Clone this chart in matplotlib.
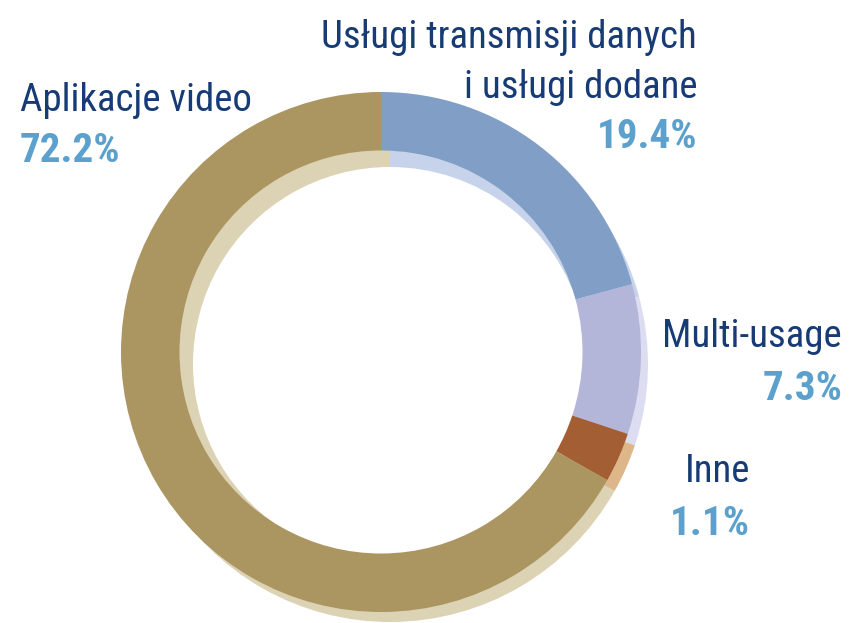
import matplotlib
matplotlib.use("Agg")
import matplotlib.pyplot as plt

# Data (slice sizes as drawn in the picture, labels as printed)
categories = ["Usługi transmisji danych\ni usługi dodane", "Multi-usage", "Inne", "Aplikacje video"]
slice_shares = [20.8, 9.3, 3.1, 66.8]
pct_labels = ["19.4%", "7.3%", "1.1%", "72.2%"]

front_colors = ["#819FC6", "#B3B5D9", "#A35E33", "#AB9662"]
shadow_colors = ["#C6D3EA", "#DCDDF1", "#DDB68A", "#DCD3B4"]

W, H = 852, 623
fig = plt.figure(figsize=(W / 100, H / 100), dpi=100)
ax = fig.add_axes([0, 0, 1, 1])

# shadow ring
ax.pie(slice_shares, colors=shadow_colors, startangle=90, counterclock=False,
       center=(390, H - 364), radius=258,
       wedgeprops=dict(width=61, linewidth=0), frame=False)
# front ring
ax.pie(slice_shares, colors=front_colors, startangle=90, counterclock=False,
       center=(381, H - 352), radius=260,
       wedgeprops=dict(width=58.5, linewidth=0), frame=False)

ax.set_xlim(0, W)
ax.set_ylim(0, H)
ax.set_aspect("equal")
ax.axis("off")

fam = ["Roboto Condensed", "Archivo Narrow", "IBM Plex Sans Condensed", "Liberation Sans"]
name_color = "#173B74"
pct_color = "#5CA0CD"

def put(text, x, y, ha, color, weight="normal", fs=28):
    fig.text(x / W, 1 - y / H, text, ha=ha, va="baseline", color=color,
             fontsize=fs, fontweight=weight, family=fam)

# Usługi
put("Usługi transmisji danych", 697, 48, "right", name_color)
put("i usługi dodane", 697, 98, "right", name_color)
put(pct_labels[0], 697, 148, "right", pct_color, "bold", 29.5)
# Multi-usage
put(categories[1], 842, 347, "right", name_color)
put(pct_labels[1], 842, 400, "right", pct_color, "bold", 29.5)
# Inne
put(categories[2], 750, 482, "right", name_color)
put(pct_labels[2], 750, 535, "right", pct_color, "bold", 29.5)
# Aplikacje video
put(categories[3], 20, 111, "left", name_color)
put(pct_labels[3], 20, 162, "left", pct_color, "bold", 29.5)

fig.savefig("out.png", dpi=100, facecolor="white")
